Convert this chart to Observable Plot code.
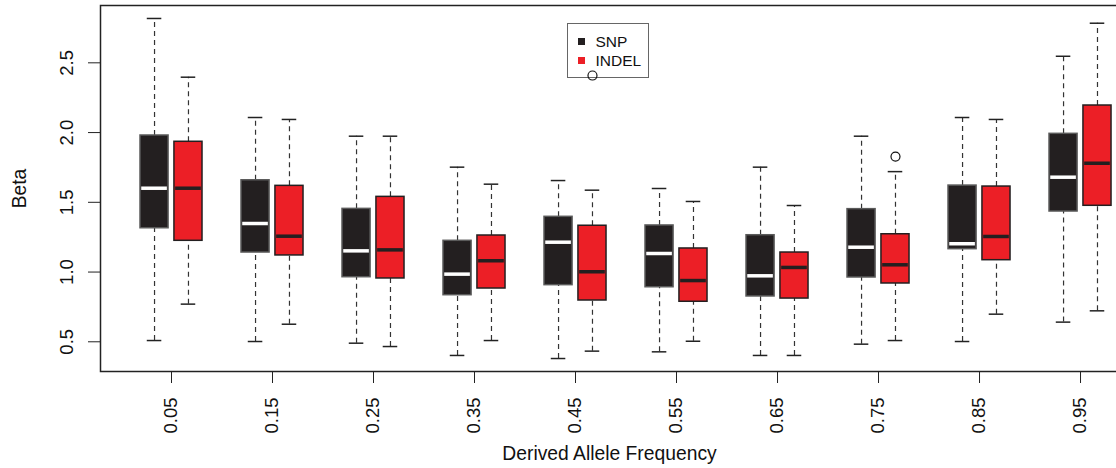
<!DOCTYPE html>
<html><head><meta charset="utf-8">
<script src="https://cdn.jsdelivr.net/npm/d3@7"></script>
<script src="https://cdn.jsdelivr.net/npm/@observablehq/plot@0.6"></script>
<style>
body{margin:0;background:#fff;overflow:hidden}
#wrap{position:relative;width:1116px;height:468px;font-family:"Liberation Sans",Arial,Helvetica,sans-serif}
#wrap svg{position:relative;z-index:1}
#legend{position:absolute;z-index:0;left:567px;top:23px;width:80px;height:53px;border:1.5px solid #666;background:#fff}
.item{position:absolute;left:27.5px;font-size:15.5px;line-height:1;color:#111;white-space:nowrap}
.sw{position:absolute;width:7px;height:7px;left:9.5px}
</style></head><body>
<div id="wrap">
  <div id="legend">
    <div class="sw" style="top:14px;background:#231f20"></div><div class="item" style="top:10px">SNP</div>
    <div class="sw" style="top:32.6px;background:#ec1f26"></div><div class="item" style="top:28.5px">INDEL</div>
  </div>
</div>
<script>
// ---- data ----
const freqs = [0.05, 0.15, 0.25, 0.35, 0.45, 0.55, 0.65, 0.75, 0.85, 0.95];
const freqLabels = ["0.05","0.15","0.25","0.35","0.45","0.55","0.65","0.75","0.85","0.95"];
const yTicks = [0.5, 1.0, 1.5, 2.0, 2.5];
const yTickLabels = ["0.5","1.0","1.5","2.0","2.5"];
const seriesNames = ["SNP", "INDEL"];

const snpLow  = [0.509, 0.502, 0.490, 0.402, 0.380, 0.428, 0.402, 0.483, 0.502, 0.641];
const snpQ1   = [1.314, 1.140, 0.963, 0.834, 0.906, 0.891, 0.825, 0.961, 1.164, 1.434];
const snpMed  = [1.601, 1.348, 1.152, 0.985, 1.214, 1.133, 0.973, 1.178, 1.203, 1.680];
const snpQ3   = [1.979, 1.658, 1.453, 1.224, 1.396, 1.334, 1.264, 1.451, 1.620, 1.991];
const snpHigh = [2.818, 2.108, 1.974, 1.752, 1.656, 1.599, 1.752, 1.974, 2.108, 2.547];

const indelLow  = [0.770, 0.626, 0.466, 0.509, 0.433, 0.504, 0.402, 0.509, 0.698, 0.722];
const indelQ1   = [1.224, 1.119, 0.954, 0.882, 0.796, 0.787, 0.810, 0.918, 1.085, 1.475];
const indelMed  = [1.601, 1.257, 1.159, 1.081, 1.002, 0.939, 1.033, 1.052, 1.255, 1.780];
const indelQ3   = [1.934, 1.618, 1.539, 1.262, 1.332, 1.169, 1.140, 1.271, 1.613, 2.194];
const indelHigh = [2.397, 2.094, 1.974, 1.630, 1.587, 1.506, 1.477, 1.720, 2.094, 2.784];

const indelOutFreq = [0.45, 0.75];
const indelOutBeta = [2.409, 1.828];

// ---- layout constants (in x-scale units) ----
const OFF = 0.0168, HALF = 0.0139, CAP = 0.0072;
const colors = {SNP: "#231f20", INDEL: "#ec1f26"};
const borders = {SNP: "#5a5a5a", INDEL: "#231f20"};
const medColors = {SNP: "#ffffff", INDEL: "#231f20"};

function rows(series, low, q1, med, q3, high, sign) {
  return freqs.map((f, i) => ({series, f, cx: f + sign * OFF, low: low[i], q1: q1[i], med: med[i], q3: q3[i], high: high[i]}));
}
const data = [
  ...rows("SNP", snpLow, snpQ1, snpMed, snpQ3, snpHigh, -1),
  ...rows("INDEL", indelLow, indelQ1, indelMed, indelQ3, indelHigh, +1)
];
const outliers = indelOutFreq.map((f, i) => ({series: "INDEL", cx: f + OFF, v: indelOutBeta[i]}));

const font = "Liberation Sans, Arial, Helvetica, sans-serif";

const chart = Plot.plot({
  width: 1116,
  height: 468,
  marginLeft: 100,
  marginRight: -2,
  marginTop: 5,
  marginBottom: 97,
  style: {background: "transparent", fontFamily: font, color: "#111", overflow: "visible"},
  x: {type: "linear", domain: [-0.0203, 0.9876]},
  y: {domain: [0.287, 2.911]},
  marks: [
    // whiskers
    Plot.ruleX(data, {x: "cx", y1: "q3", y2: "high", stroke: "#333", strokeWidth: 1.2, strokeDasharray: "5,4"}),
    Plot.ruleX(data, {x: "cx", y1: "low", y2: "q1", stroke: "#333", strokeWidth: 1.2, strokeDasharray: "5,4"}),
    // staples
    Plot.ruleY(data, {y: "high", x1: d => d.cx - CAP, x2: d => d.cx + CAP, stroke: "#222", strokeWidth: 1.5}),
    Plot.ruleY(data, {y: "low", x1: d => d.cx - CAP, x2: d => d.cx + CAP, stroke: "#222", strokeWidth: 1.5}),
    // boxes
    Plot.rect(data, {x1: d => d.cx - HALF, x2: d => d.cx + HALF, y1: "q1", y2: "q3",
      fill: d => colors[d.series], stroke: d => borders[d.series], strokeWidth: 1.5}),
    // medians
    Plot.ruleY(data, {y: "med", x1: d => d.cx - HALF + 0.0012, x2: d => d.cx + HALF - 0.0012,
      stroke: d => medColors[d.series], strokeWidth: 3.5}),
    // outliers
    Plot.dot(outliers, {x: "cx", y: "v", r: 4.5, stroke: "#111", strokeWidth: 1.2, fill: "none"}),
    Plot.frame({stroke: "#222", strokeWidth: 1.5}),
    Plot.axisY({ticks: yTicks, tickFormat: (d, i) => yTickLabels[i], tickSize: 12, tickPadding: 16, tickRotate: -90,
      fontSize: 18.5, fontFamily: font, stroke: "#222", label: null}),
    Plot.axisY({ticks: [], tickSize: 0, fontSize: 19.3, fontFamily: font,
      label: "Beta", labelAnchor: "center", labelArrow: "none", labelOffset: 88}),
    Plot.axisX({ticks: freqs, tickFormat: (d, i) => freqLabels[i], tickSize: 12, tickPadding: 14, tickRotate: -90,
      fontSize: 18.5, fontFamily: font, stroke: "#222", label: null}),
    Plot.axisX({ticks: [], tickSize: 0, fontSize: 19.3, fontFamily: font,
      label: "Derived Allele Frequency", labelAnchor: "center", labelArrow: "none", labelOffset: 88})
  ]
});
document.getElementById("wrap").appendChild(chart);
</script>
</body></html>
